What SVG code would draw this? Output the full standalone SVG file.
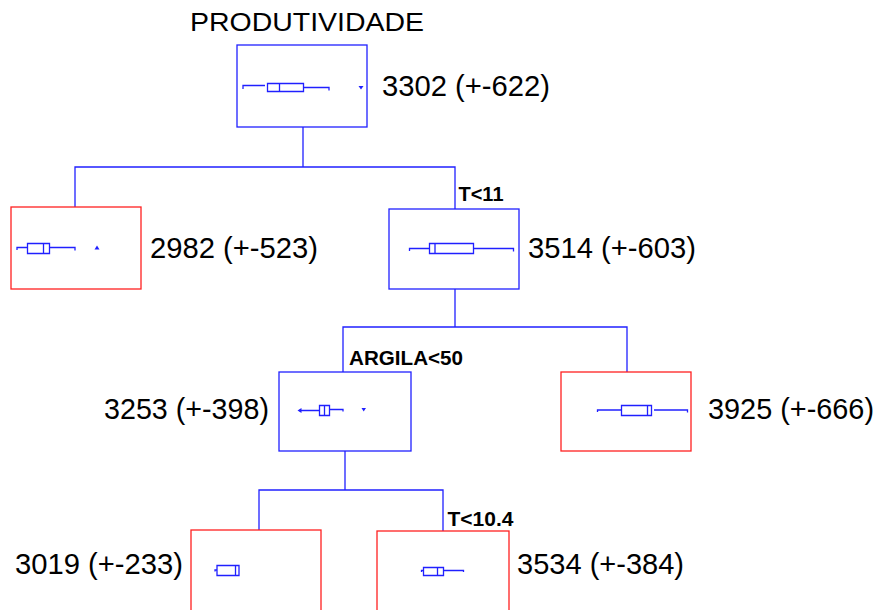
<svg xmlns="http://www.w3.org/2000/svg" width="880" height="610" viewBox="0 0 880 610">
  <style>
    .node-blue { fill: #ffffff; stroke: #2020ff; stroke-width: 1.3; }
    .node-red { fill: #ffffff; stroke: #ff2020; stroke-width: 1.3; }
    .plot { fill: none; stroke: #2020ff; stroke-width: 1.3; }
    .dot { fill: #2020ff; stroke: none; }
    .link { fill: none; stroke: #2020ff; stroke-width: 1.3; }
    .val { font-family: "Liberation Sans", Arial, sans-serif; font-size: 29px; fill: #000000; }
    .split { font-family: "Liberation Sans", Arial, sans-serif; font-size: 21px; font-weight: bold; fill: #000000; }
    .title { font-family: "Liberation Sans", Arial, sans-serif; font-size: 26px; fill: #000000; }
  </style>

  <text class="title" x="190" y="31" textLength="234" lengthAdjust="spacingAndGlyphs">PRODUTIVIDADE</text>

  <g id="connectors">
    <polyline class="link" points="303,127 303,167"/>
    <polyline class="link" points="75,207 75,167 455,167 455,209"/>
    <polyline class="link" points="455,289 455,327"/>
    <polyline class="link" points="343,372 343,327 627,327 627,372"/>
    <polyline class="link" points="345,451 345,490"/>
    <polyline class="link" points="259,530 259,490 443,490 443,531"/>
  </g>

  <g id="node-root">
    <rect class="node-blue" x="237" y="45" width="130" height="82"/>
    <path class="plot" d="M243,89 V85.5 H265 M267.5,83.5 h36 v8 h-36 Z M279.5,83.5 v8 M303.5,87.5 H329 v3"/>
    <polygon class="dot" points="358.5,86 363.5,86 361,89.5"/>
    <text class="val" x="382" y="96" textLength="168" lengthAdjust="spacingAndGlyphs">3302 (+-622)</text>
  </g>

  <g id="node-left">
    <rect class="node-red" x="11" y="207" width="130" height="82"/>
    <path class="plot" d="M17,250 V247.5 H27.5 M27.5,243.5 h22 v10 h-22 Z M43.5,243.5 v10 M49.5,247.5 H75 v3"/>
    <polygon class="dot" points="94.5,249.5 99.5,249.5 97,245.5"/>
    <text class="val" x="150" y="258" textLength="168" lengthAdjust="spacingAndGlyphs">2982 (+-523)</text>
  </g>

  <g id="node-t11">
    <rect class="node-blue" x="389" y="209" width="130" height="80"/>
    <path class="plot" d="M409.5,251 V248.5 H429.5 M429.5,243.5 h44 v10 h-44 Z M435,243.5 v10 M473.5,248.5 H513.5 v3"/>
    <text class="split" x="458.5" y="200.5" textLength="45" lengthAdjust="spacingAndGlyphs">T&lt;11</text>
    <text class="val" x="528" y="258" textLength="168" lengthAdjust="spacingAndGlyphs">3514 (+-603)</text>
  </g>

  <g id="node-argila">
    <rect class="node-blue" x="279" y="372" width="132" height="79"/>
    <path class="plot" d="M299.5,410.5 H319.5 M319.5,405.5 h10 v10 h-10 Z M324.5,405.5 v10 M329.5,409.5 H343 v2"/>
    <polygon class="dot" points="297.5,410.5 301.5,408 301.5,413"/>
    <polygon class="dot" points="361.5,408 366,408 363.7,411.5"/>
    <text class="split" x="349" y="365" textLength="114" lengthAdjust="spacingAndGlyphs">ARGILA&lt;50</text>
    <text class="val" x="104" y="419" textLength="165" lengthAdjust="spacingAndGlyphs">3253 (+-398)</text>
  </g>

  <g id="node-right">
    <rect class="node-red" x="561" y="372" width="130" height="79"/>
    <path class="plot" d="M597.5,412 V410 H621.5 M621.5,405.5 h30 v10 h-30 Z M647.5,405.5 v10 M654,410 H687.5 v2.5"/>
    <text class="val" x="708" y="419" textLength="166" lengthAdjust="spacingAndGlyphs">3925 (+-666)</text>
  </g>

  <g id="node-low">
    <rect class="node-red" x="191" y="530" width="130" height="90"/>
    <path class="plot" d="M215,571.5 V570 H217 M217,565.5 h22 v10 h-22 Z M235.5,565.5 v10"/>
    <text class="val" x="15" y="574" textLength="168" lengthAdjust="spacingAndGlyphs">3019 (+-233)</text>
  </g>

  <g id="node-t104">
    <rect class="node-red" x="377" y="531" width="132" height="90"/>
    <path class="plot" d="M421.5,572 V570.5 H423.5 M423.5,567.5 h20 v8 h-20 Z M437.5,567.5 v8 M443.5,570.5 H463.5 v1.5"/>
    <text class="split" x="447.5" y="526" textLength="66" lengthAdjust="spacingAndGlyphs">T&lt;10.4</text>
    <text class="val" x="517" y="574" textLength="167" lengthAdjust="spacingAndGlyphs">3534 (+-384)</text>
  </g>
</svg>
